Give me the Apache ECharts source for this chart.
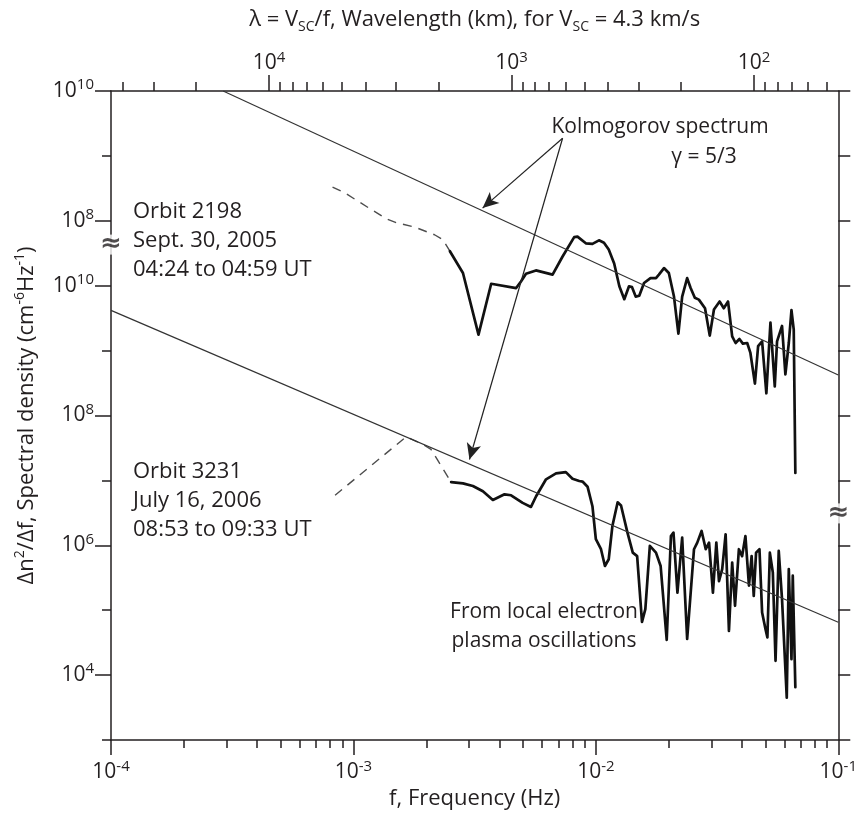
<!DOCTYPE html>
<html>
<head>
<meta charset="utf-8">
<title>Spectral density</title>
<script src="https://cdn.jsdelivr.net/npm/echarts@6.0.0/dist/echarts.min.js"></script>
<style>
  html, body { margin: 0; padding: 0; background: #fff; }
  #main { width: 860px; height: 815px; }
</style>
</head>
<body>
<div id="main"></div>
<script>
var myChart = echarts.init(document.getElementById('main'));

// Orbit 2198 (upper curve), real values, read against the upper labels of the y axis
var upperDashed = [
    [8.2e-4, 3.3e8], [9.2e-4, 2.7e8], [1.15e-3, 1.6e8], [1.37e-3, 1.07e8], [1.5e-3, 9.4e7],
    [1.79e-3, 8.0e7], [2.16e-3, 6.1e7], [2.34e-3, 5.1e7], [2.5e-3, 3.4e7]
];
var upperSolid = [
    [2.5e-3, 3.4e7], [2.83e-3, 1.57e7], [3.28e-3, 1.76e6], [3.7e-3, 1.07e7], [4.69e-3, 9.2e6],
    [4.91e-3, 1.16e7], [5.15e-3, 1.53e7], [5.66e-3, 1.72e7], [6.63e-3, 1.48e7], [7.29e-3, 2.82e7],
    [8.14e-3, 5.6e7], [8.4e-3, 5.7e7], [9.09e-3, 4.5e7], [9.68e-3, 4.4e7], [1.03e-2, 5.0e7],
    [1.08e-2, 4.6e7], [1.13e-2, 3.6e7], [1.19e-2, 2.2e7], [1.25e-2, 9.8e6], [1.31e-2, 6.2e6],
    [1.37e-2, 9.8e6], [1.41e-2, 9.5e6], [1.46e-2, 6.8e6], [1.51e-2, 7.0e6], [1.58e-2, 1.1e7],
    [1.68e-2, 1.31e7], [1.77e-2, 1.31e7], [1.82e-2, 1.48e7], [1.91e-2, 1.87e7], [2.0e-2, 1.57e7],
    [2.1e-2, 6.8e6], [2.19e-2, 1.83e6], [2.27e-2, 6.8e6], [2.38e-2, 1.31e7], [2.46e-2, 9.2e6],
    [2.56e-2, 6.5e6], [2.66e-2, 6.1e6], [2.82e-2, 4.5e6], [2.95e-2, 1.7e6], [3.07e-2, 4.3e6],
    [3.24e-2, 5.7e6], [3.37e-2, 4.5e6], [3.51e-2, 5.7e6], [3.65e-2, 1.66e6], [3.77e-2, 1.31e6],
    [3.91e-2, 1.51e6], [4.04e-2, 1.28e6], [4.21e-2, 1.31e6], [4.34e-2, 9.2e5], [4.53e-2, 3.1e5],
    [4.67e-2, 1.17e6], [4.85e-2, 1.39e6], [5.05e-2, 2.2e5], [5.25e-2, 2.7e6], [5.47e-2, 2.8e5],
    [5.59e-2, 1.39e6], [5.86e-2, 2.4e6], [6.05e-2, 4.3e5], [6.25e-2, 1.31e6], [6.41e-2, 4.2e6],
    [6.55e-2, 2.1e6], [6.65e-2, 1.3e4]
];

// Orbit 3231 (lower curve)
var lowerDashed = [
    [8.4e-4, 5.9e6], [1.65e-3, 4.7e7], [1.93e-3, 3.6e7], [2.09e-3, 3.0e7], [2.53e-3, 9.4e6]
];
var lowerSolid = [
    [2.53e-3, 9.4e6], [2.83e-3, 9.0e6], [3.11e-3, 8.2e6], [3.42e-3, 6.8e6], [3.76e-3, 5.0e6],
    [4.2e-3, 6.1e6], [4.47e-3, 5.9e6], [4.99e-3, 4.5e6], [5.4e-3, 3.9e6], [5.67e-3, 5.7e6],
    [6.23e-3, 1.04e7], [6.85e-3, 1.28e7], [7.52e-3, 1.34e7], [8.01e-3, 1.06e7], [8.54e-3, 9.8e6],
    [8.81e-3, 9.6e6], [9.24e-3, 8.0e6], [9.68e-3, 4.0e6], [1.0e-2, 1.24e6], [1.05e-2, 8.7e5],
    [1.09e-2, 4.8e5], [1.13e-2, 6.1e5], [1.17e-2, 1.98e6], [1.23e-2, 4.6e6], [1.27e-2, 4.1e6],
    [1.35e-2, 1.57e6], [1.42e-2, 7.7e5], [1.48e-2, 6.8e5], [1.55e-2, 6.6e4], [1.6e-2, 1.04e5],
    [1.67e-2, 9.8e5], [1.77e-2, 7.7e5], [1.85e-2, 4.8e5], [1.96e-2, 3.5e4], [2.04e-2, 1.39e6],
    [2.09e-2, 1.57e6], [2.17e-2, 1.87e5], [2.27e-2, 1.31e6], [2.38e-2, 3.6e4], [2.54e-2, 8.7e5],
    [2.62e-2, 1.1e6], [2.73e-2, 1.66e6], [2.84e-2, 8.7e5], [2.93e-2, 1.1e6], [3.04e-2, 1.87e5],
    [3.14e-2, 1.1e6], [3.22e-2, 2.8e5], [3.32e-2, 4.3e5], [3.43e-2, 1.48e6], [3.54e-2, 4.8e4],
    [3.65e-2, 5.4e5], [3.75e-2, 1.17e5], [3.89e-2, 8.7e5], [4.01e-2, 6.8e5], [4.14e-2, 1.39e6],
    [4.28e-2, 2.4e5], [4.39e-2, 6.8e5], [4.48e-2, 1.66e5], [4.58e-2, 7.7e5], [4.73e-2, 8.7e5],
    [4.85e-2, 9.2e4], [5.01e-2, 5.1e4], [5.1e-2, 3.8e4], [5.22e-2, 7.7e5], [5.37e-2, 3.8e5],
    [5.51e-2, 1.66e4], [5.68e-2, 8.2e5], [5.86e-2, 1.48e5], [6.13e-2, 4.5e3], [6.25e-2, 4.3e5],
    [6.41e-2, 1.76e4], [6.49e-2, 3.4e5], [6.65e-2, 6.5e3]
];

// Kolmogorov reference lines, end points
var kolmoUpper = [[2.9e-4, 1e10], [1e-1, 4.2e5]];
var kolmoLower = [[1e-4, 4.17e9], [1e-1, 6.53e4]];

// arrows of the "Kolmogorov spectrum" note, in plotted units
var arrowFrom = [7.29e-3, 1.87e12];
var arrowTo = [[3.41e-3, 1.57e11], [3.01e-3, 2.1e7]];

// axis break marks (left and right spine)
var breakMarks = [[1e-4, 4.3e10], [1e-1, 3.1e6]];

var upperShift = 1e3;      // upper curve is drawn three decades up
var lambdaFactor = 4.49;   // km/s, matches the wavelength ticks on the top axis

var freqDecades = [1e-4, 1e-3, 1e-2, 1e-1];
var lambdaDecades = [1e4, 1e3, 1e2];
var yMajor = [1e4, 1e6, 1e8, 1e10, 1e11, 1e13];
var yMinor = [1e3, 1e5, 1e7, 1e9, 1e12];
var yAll = [1e3, 1e4, 1e5, 1e6, 1e7, 1e8, 1e9, 1e10, 1e11, 1e12, 1e13];

var freqMinor = [];
[1e-4, 1e-3, 1e-2].forEach(function (d) {
    for (var m = 2; m <= 9; m++) freqMinor.push(m * d);
});
var lambdaMinor = [];
[1e1, 1e2, 1e3, 1e4].forEach(function (d) {
    for (var m = 2; m <= 9; m++) {
        var f = lambdaFactor / (m * d);
        if (f > 1e-4 && f < 1e-1) lambdaMinor.push(f);
    }
});
var lambdaMajor = lambdaDecades.map(function (l) { return lambdaFactor / l; });

var font = '"Open Sans", "Noto Sans", sans-serif';
var ink = '#231f20';

var tickRich = {
    b: {fontSize: 21, fontFamily: font, color: ink, lineHeight: 27},
    s: {fontSize: 15, fontFamily: font, color: ink, lineHeight: 15, verticalAlign: 'top'}
};
var nameRich = {
    s: {fontSize: 14, fontFamily: font, color: ink, lineHeight: 14, verticalAlign: 'top'},
    sub: {fontSize: 14, fontFamily: font, color: ink, lineHeight: 14, verticalAlign: 'bottom'}
};

function expOf(v) {
    return Math.round(Math.log(v) / Math.LN10);
}
function powLabel(e) {
    return '{b|10}{s|' + e + '}';
}

function scaled(data, k) {
    return data.map(function (p) { return [p[0], p[1] * k]; });
}

var axisLineStyle = {color: ink, width: 1.5};

var option = {
    animation: false,
    backgroundColor: '#fff',
    grid: {left: 111, right: 20, top: 91, bottom: 75},
    xAxis: [
        {
            type: 'log', position: 'bottom', min: 1e-4, max: 1e-1,
            axisLine: {show: true, lineStyle: axisLineStyle},
            axisTick: {show: true, customValues: freqDecades, length: 15, lineStyle: axisLineStyle},
            axisLabel: {
                customValues: freqDecades, margin: 19, rich: tickRich,
                formatter: function (v) { return powLabel(expOf(v)); }
            },
            splitLine: {show: false},
            name: 'f, Frequency (Hz)', nameLocation: 'middle', nameGap: 46,
            nameTextStyle: {fontSize: 22, fontFamily: font, color: ink}
        },
        {
            type: 'log', position: 'bottom', min: 1e-4, max: 1e-1,
            axisLine: {show: false},
            axisTick: {show: true, customValues: freqMinor, length: 8, lineStyle: axisLineStyle},
            axisLabel: {show: false},
            splitLine: {show: false}
        },
        {
            type: 'log', position: 'top', min: 1e-4, max: 1e-1,
            axisLine: {show: true, lineStyle: axisLineStyle},
            axisTick: {show: true, customValues: lambdaMajor, length: 16, lineStyle: axisLineStyle},
            axisLabel: {
                customValues: lambdaMajor, margin: 14, rich: tickRich,
                formatter: function (v) { return powLabel(expOf(lambdaFactor / v)); }
            },
            splitLine: {show: false},
            name: 'λ = V{sub|SC}/f, Wavelength (km), for V{sub|SC} = 4.3 km/s',
            nameLocation: 'middle', nameGap: 57,
            nameTextStyle: {fontSize: 22, fontFamily: font, color: ink, lineHeight: 28, rich: nameRich}
        },
        {
            type: 'log', position: 'top', min: 1e-4, max: 1e-1,
            axisLine: {show: false},
            axisTick: {show: true, customValues: lambdaMinor, length: 9, lineStyle: axisLineStyle},
            axisLabel: {show: false},
            splitLine: {show: false}
        }
    ],
    yAxis: [
        {
            type: 'log', position: 'left', min: 1e3, max: 1e13,
            axisLine: {show: true, lineStyle: axisLineStyle},
            axisTick: {show: true, customValues: yMajor, length: 16, lineStyle: axisLineStyle},
            axisLabel: {
                customValues: yMajor, margin: 17, rich: tickRich,
                formatter: function (v) {
                    var e = expOf(v);
                    return powLabel(e > 10 ? e - 3 : e);
                }
            },
            splitLine: {show: false},
            name: 'Δn{s|2}/Δf, Spectral density (cm{s|-6}Hz{s|-1})',
            nameLocation: 'middle', nameRotate: 90, nameGap: 70,
            nameTextStyle: {fontSize: 22, fontFamily: font, color: ink, lineHeight: 28, rich: nameRich}
        },
        {
            type: 'log', position: 'left', min: 1e3, max: 1e13,
            axisLine: {show: false},
            axisTick: {show: true, customValues: yMinor, length: 9, lineStyle: axisLineStyle},
            axisLabel: {show: false},
            splitLine: {show: false}
        },
        {
            type: 'log', position: 'right', min: 1e3, max: 1e13,
            axisLine: {show: true, lineStyle: axisLineStyle},
            axisTick: {show: true, customValues: yAll, length: 12, lineStyle: axisLineStyle},
            axisLabel: {show: false},
            splitLine: {show: false}
        }
    ],
    series: [
        {
            type: 'line', data: scaled(upperDashed, upperShift), symbol: 'none',
            lineStyle: {color: '#4d4d4d', width: 1.4, type: [9, 7]}
        },
        {
            type: 'line', data: scaled(upperSolid, upperShift), symbol: 'none',
            lineStyle: {color: '#111', width: 2.7, join: 'round', cap: 'round'}
        },
        {
            type: 'line', data: lowerDashed, symbol: 'none',
            lineStyle: {color: '#4d4d4d', width: 1.4, type: [9, 7]}
        },
        {
            type: 'line', data: lowerSolid, symbol: 'none',
            lineStyle: {color: '#111', width: 2.7, join: 'round', cap: 'round'}
        },
        {
            type: 'line', data: scaled(kolmoUpper, upperShift), symbol: 'none',
            lineStyle: {color: '#333', width: 1.2},
            markLine: {
                silent: true, symbol: ['none', 'arrow'], symbolSize: [11, 16],
                label: {show: false},
                lineStyle: {color: '#222', width: 1.2, type: 'solid'},
                data: arrowTo.map(function (p) {
                    return [{coord: arrowFrom}, {coord: p}];
                })
            }
        },
        {
            type: 'line', data: kolmoLower, symbol: 'none',
            lineStyle: {color: '#333', width: 1.2}
        },
        {
            type: 'scatter', data: breakMarks, symbolSize: 2, clip: false, z: 10,
            itemStyle: {color: 'rgba(0,0,0,0)'},
            label: {
                show: true, position: 'inside', formatter: '≈',
                fontSize: 26, fontFamily: '"DejaVu Sans", sans-serif', fontWeight: 'bold', color: ink,
                backgroundColor: '#fff', lineHeight: 20, padding: [0, 1]
            }
        }
    ],
    graphic: [
        {
            type: 'text', left: 133, top: 197,
            style: {text: 'Orbit 2198\nSept. 30, 2005\n04:24 to 04:59 UT', font: '22px ' + font, lineHeight: 29, fill: ink}
        },
        {
            type: 'text', left: 133, top: 457,
            style: {text: 'Orbit 3231\nJuly 16, 2006\n08:53 to 09:33 UT', font: '22px ' + font, lineHeight: 29, fill: ink}
        },
        {
            type: 'text', x: 660, y: 127,
            style: {text: 'Kolmogorov spectrum', font: '21px ' + font, fill: ink, align: 'center', verticalAlign: 'middle'}
        },
        {
            type: 'text', x: 704, y: 157,
            style: {text: 'γ = 5/3', font: '21px ' + font, fill: ink, align: 'center', verticalAlign: 'middle'}
        },
        {
            type: 'text', x: 544, y: 627,
            style: {text: 'From local electron\nplasma oscillations', font: '21px ' + font, lineHeight: 29, fill: ink, align: 'center', verticalAlign: 'middle'}
        }
    ]
};

myChart.setOption(option);
</script>
</body>
</html>
